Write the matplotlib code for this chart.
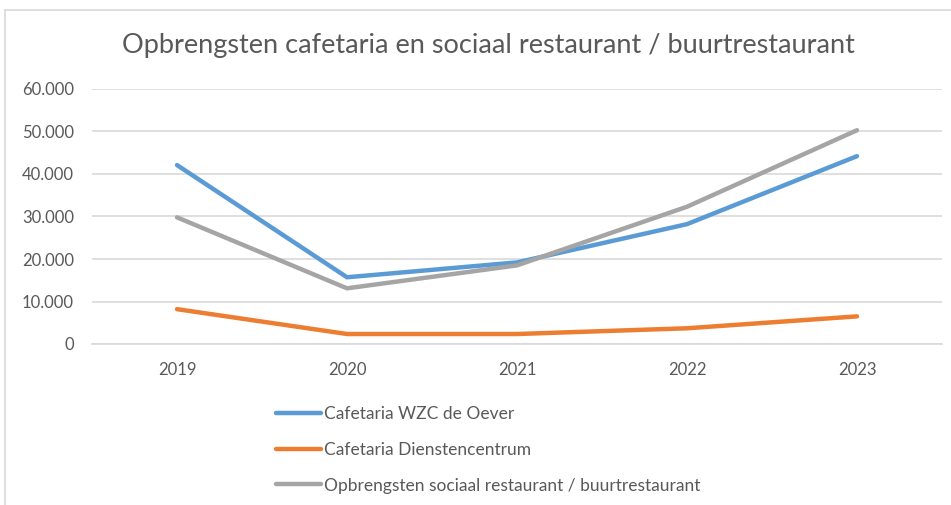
import matplotlib
matplotlib.use("Agg")
import matplotlib.pyplot as plt
from matplotlib.lines import Line2D
from matplotlib.ticker import FuncFormatter

years = ["2019", "2020", "2021", "2022", "2023"]
wzc_oever = [42100, 15700, 19200, 28200, 44200]
dienstencentrum = [8200, 2350, 2350, 3700, 6500]
sociaal_restaurant = [29800, 13100, 18500, 32300, 50300]
series_names = ["Cafetaria WZC de Oever", "Cafetaria Dienstencentrum",
                "Opbrengsten sociaal restaurant / buurtrestaurant"]
colors = ["#5B9BD5", "#ED7D31", "#A5A5A5"]

plt.rcParams['font.family'] = ['Lato', 'DejaVu Sans']
W, H = 951, 505
fig = plt.figure(figsize=(W / 100, H / 100), dpi=100)

# chart frame (cropped)
fig.add_artist(Line2D([5 / W, 1], [1 - 10 / H, 1 - 10 / H], color="#d9d9d9", lw=1.2))
fig.add_artist(Line2D([5 / W, 5 / W], [0, 1 - 10 / H], color="#d9d9d9", lw=1.2))

ax = fig.add_axes([92 / W, (H - 344) / H, (942 - 92) / W, (344 - 89) / H])
x = range(len(years))
for vals, name, c in zip([wzc_oever, dienstencentrum, sociaal_restaurant], series_names, colors):
    ax.plot(x, vals, color=c, lw=3.2, label=name, solid_capstyle="round", solid_joinstyle="round")

ax.set_xlim(-0.5, len(years) - 0.5)
ax.set_ylim(0, 60000)
ax.set_yticks(range(0, 60001, 10000))
ax.yaxis.set_major_formatter(FuncFormatter(lambda v, p: "0" if v == 0 else f"{int(v):,}".replace(",", ".")))
ax.set_xticks(list(x))
ax.set_xticklabels(years)
ax.grid(axis="y", color="#d9d9d9", lw=1.2)
ax.set_axisbelow(True)
for s in ["top", "right", "left"]:
    ax.spines[s].set_visible(False)
ax.spines["bottom"].set_color("#d9d9d9")
ax.spines["bottom"].set_linewidth(1.2)
ax.tick_params(axis="both", length=0, labelsize=12, colors="#595959")
ax.tick_params(axis="y", pad=13)
ax.tick_params(axis="x", pad=13)

fig.text(488 / W, 1 - 46 / H, "Opbrengsten cafetaria en sociaal restaurant / buurtrestaurant",
         ha="center", va="center", fontsize=19.5, color="#595959")

leg = fig.legend(loc="upper left", bbox_to_anchor=(260 / W, 1 - 390 / H), frameon=False,
                 fontsize=12.5, handlelength=2.6, handletextpad=0.17, labelspacing=1.15,
                 labelcolor="#595959")

fig.savefig("out.png", dpi=100)
